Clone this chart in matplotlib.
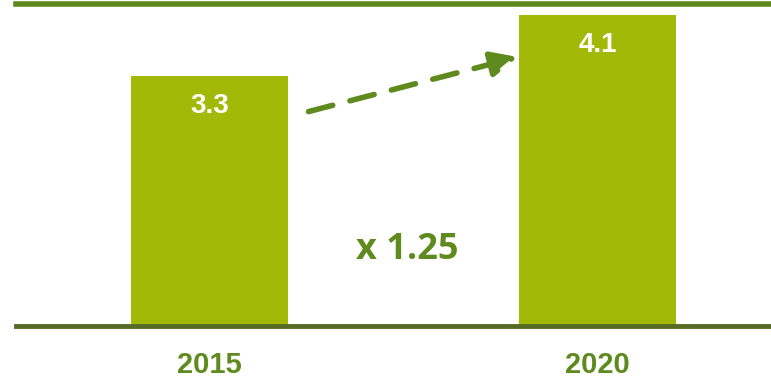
import matplotlib.pyplot as plt

# data
years = ['2015', '2020']
values = [3.3, 4.1]
bar_labels = ['3.3', '4.1']
growth_label = 'x 1.25'

bar_color = '#a3b908'
dark_green = '#5e8a1e'
axis_color = '#566b26'

fig = plt.figure(figsize=(7.71, 3.80), dpi=100)
ax = fig.add_axes([16 / 771, 54 / 380, 755 / 771, 322 / 380])

pos = list(range(len(years)))
ax.bar(pos, values, width=0.405, color=bar_color, zorder=2)

for p, v, lab in zip(pos, values, bar_labels):
    ax.text(p, v - 0.485, lab, ha='center', va='baseline', color='white',
            fontsize=20, fontweight='bold', family='Liberation Sans')

# dashed growth arrow
ax.annotate('', xy=(0.795, 3.55), xytext=(0.255, 2.83),
            arrowprops=dict(arrowstyle='-|>,head_length=1.6,head_width=0.75',
                            color=dark_green, lw=4, linestyle=(0, (4.5, 3.2)),
                            shrinkA=0, shrinkB=0))
ax.text(0.51, 0.885, growth_label, ha='center', va='baseline', color=dark_green,
        fontsize=26, fontweight='bold', family='Open Sans')

ax.set_xlim(-0.499, 1.447)
ax.set_ylim(0, 4.25)

for s in ['left', 'right']:
    ax.spines[s].set_visible(False)
ax.spines['bottom'].set_color(axis_color)
ax.spines['bottom'].set_linewidth(3.5)
ax.spines['top'].set_color(dark_green)
ax.spines['top'].set_linewidth(4)

ax.set_yticks([])
ax.set_xticks(pos)
ax.set_xticklabels(years, color=dark_green, fontsize=21, fontweight='bold',
                   family='Liberation Sans')
ax.tick_params(axis='x', length=0, pad=18)

fig.savefig('out.png', dpi=100)
